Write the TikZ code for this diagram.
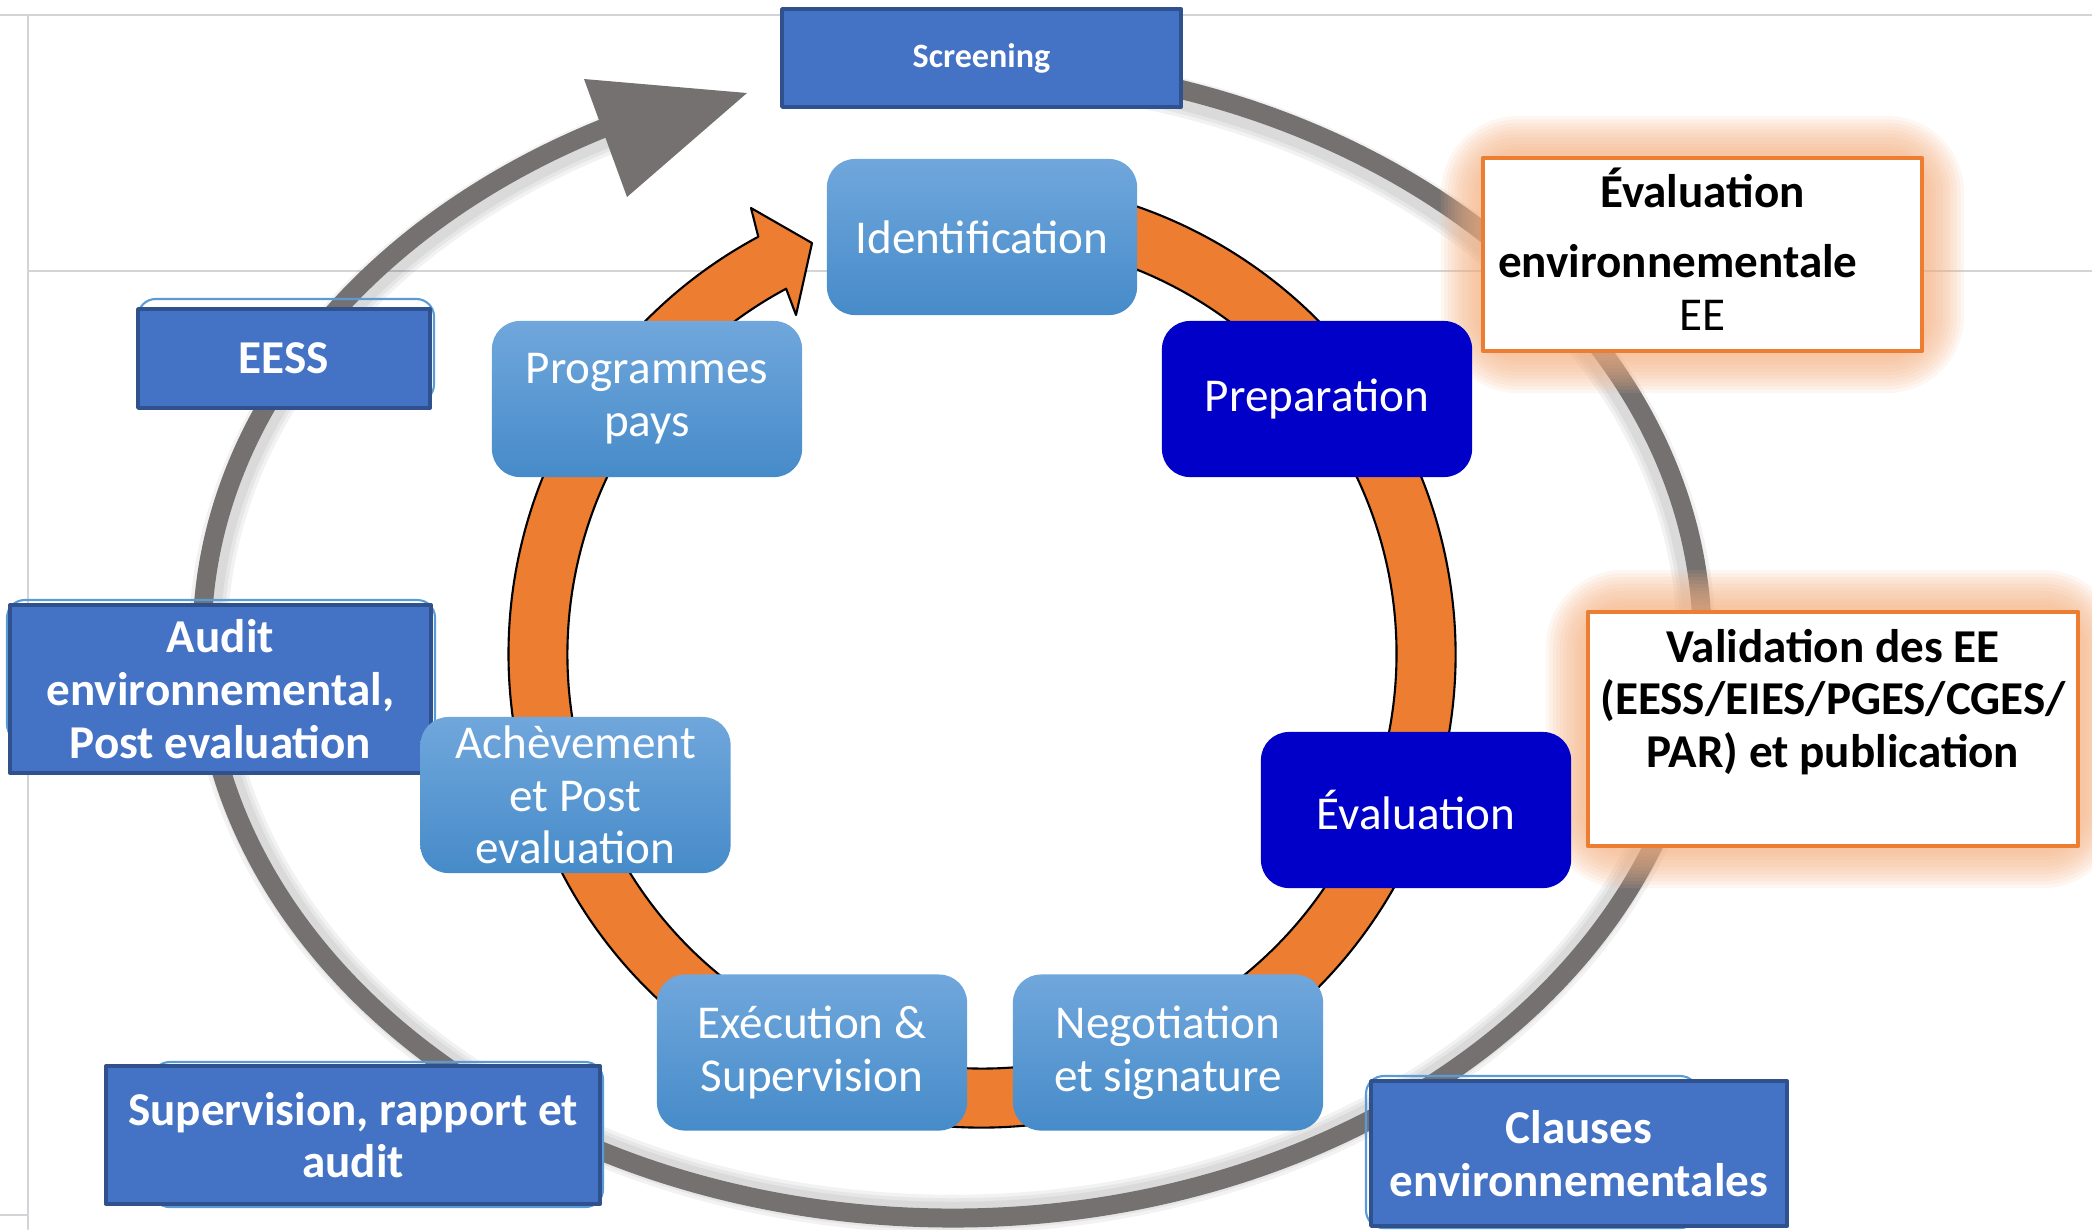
\documentclass[tikz,border=0pt]{standalone}
\usepackage{fontspec}
\setmainfont{Carlito}
\definecolor{ringgray}{HTML}{767171}
\definecolor{ringorange}{HTML}{ED7D31}
\definecolor{boxblue}{HTML}{4472C4}
\definecolor{boxline}{HTML}{2F528F}
\definecolor{ghostblue}{HTML}{5B9BD5}
\definecolor{darkstep}{HTML}{0000C8}
\definecolor{steptop}{HTML}{70A7DC}
\definecolor{stepbottom}{HTML}{468BC9}
\definecolor{glow}{HTML}{F4B183}
\definecolor{gridgray}{HTML}{D4D3D8}

\begin{document}
\begin{tikzpicture}[line cap=round,line join=round,x=0.01cm,y=-0.01cm,
	phasebox/.style={rectangle,rounded corners=0.28cm,top color=steptop,bottom color=stepbottom,text=white,minimum width=3.1cm,minimum height=1.56cm,inner sep=0pt,align=center,font=\fontsize{13.4}{15}\selectfont},
	darkphase/.style={rectangle,rounded corners=0.28cm,fill=darkstep,text=white,minimum width=3.1cm,minimum height=1.56cm,inner sep=0pt,align=center,font=\fontsize{13.4}{15}\selectfont},
	bluelabel/.style={rectangle,fill=boxblue,draw=boxline,line width=1pt,text=white,inner sep=0pt,align=center,font=\bfseries\fontsize{13.4}{15}\selectfont},
	ghostframe/.style={draw=ghostblue,line width=0.6pt,rounded corners=5pt},
	eebox/.style={rectangle,fill=white,draw=ringorange,line width=1.2pt,inner sep=0pt},
	eetext/.style={align=center,text=black,inner sep=0pt,font=\fontsize{13.4}{15}\selectfont}]
		\useasboundingbox (0,0) rectangle (2092,1229);
		\draw [gridgray,line width=0.6pt] (0,15)-- (2092,15);
		\draw [gridgray,line width=0.6pt] (28,15)-- (28,1229);
		\draw [gridgray,line width=0.6pt] (28,271)-- (2092,271);
		\draw [gridgray,line width=0.6pt] (0,1215)-- (28,1215);
		\foreach \w in {11pt,9pt,7pt}{
			\draw [black,opacity=0.05,line width=\w,line cap=butt] (1016.9,72.2) arc [start angle=275,end angle=602.4,x radius=744,y radius=572];
		}
		\draw [ringgray,line width=5.4pt,line cap=butt] (1017.4,64.2) arc [start angle=275,end angle=602.4,x radius=750,y radius=578];
		\coordinate (gtail1) at (584,79);
		\coordinate (gtip) at (747,93);
		\coordinate (gtail2) at (627,197);
		\fill [ringgray] (gtail1)-- (gtip)-- (gtail2)-- cycle;
		\coordinate (otail1) at (751,208);
		\coordinate (otip) at (812,243);
		\coordinate (otail2) at (796,315);
		\filldraw [fill=ringorange,draw=black,line width=0.6pt] (899.8,187.7) arc [start angle=260,end angle=601.8,radius=473.5]-- (otail1)-- (otip)-- (otail2)-- (786.1,288.7) arc [start angle=601.8,end angle=260,radius=414.5]-- cycle;
		\foreach \w in {4pt,6pt,8pt,10pt,12pt,14pt,16pt,18pt,20pt,22pt,24pt}{
			\draw [glow,line width=\w,opacity=0.11,rounded corners=10pt] (1483,158) rectangle (1922,351);
			\draw [glow,line width=\w,opacity=0.11,rounded corners=10pt] (1588,612) rectangle (2078,846);
		}
		\draw [ghostframe] (138,299) rectangle (434,402);
		\draw [ghostframe] (7,600) rectangle (435,742);
		\draw [ghostframe] (152,1062) rectangle (603,1207);
		\draw [ghostframe] (1366,1076) rectangle (1698,1228);
		\node [bluelabel,minimum width=3.99cm,minimum height=0.98cm,font=\bfseries\fontsize{9.7}{11}\selectfont] (screening) at (981.5,58) {Screening};
		\node [bluelabel,minimum width=2.92cm,minimum height=0.99cm] (eess) at (284,358.5) {EESS};
		\node [bluelabel,minimum width=4.21cm,minimum height=1.68cm] (audit) at (220.5,689) {Audit\\environnemental,\\Post evaluation};
		\node [bluelabel,minimum width=4.94cm,minimum height=1.38cm] (suivi) at (353,1135) {Supervision, rapport et\\audit};
		\node [bluelabel,minimum width=4.16cm,minimum height=1.45cm] (clauses) at (1579,1153.5) {Clauses\\environnementales};
		\node [phasebox] (ident) at (982,237) {Identification};
		\node [phasebox] (prog) at (647,399) {Programmes\\pays};
		\node [darkphase] (prep) at (1317,399) {Preparation};
		\node [darkphase] (evalb) at (1416,810) {Évaluation};
		\node [phasebox] (nego) at (1168,1052.5) {Negotiation\\et signature};
		\node [phasebox] (exec) at (812,1052.5) {Exécution \&\\Supervision};
		\node [phasebox] (achev) at (575.5,795) {Achèvement\\et Post\\evaluation};
		\node [eebox,minimum width=4.39cm,minimum height=1.93cm] (evalenv) at (1702.5,254.5) {};
		\node [eetext] (evalenvtxt) at (1702.5,249) {\textbf{Évaluation}\\[5pt]\textbf{environnementale}\hspace{14pt}\mbox{}\\EE};
		\node [eebox,minimum width=4.9cm,minimum height=2.34cm] (valid) at (1833,729) {};
		\node [eetext,font=\bfseries\fontsize{13.4}{15}\selectfont] (validtxt) at (1833,702) {Validation des EE\\(EESS/EIES/PGES/CGES/\\PAR) et publication};
	\end{tikzpicture}
\end{document}
